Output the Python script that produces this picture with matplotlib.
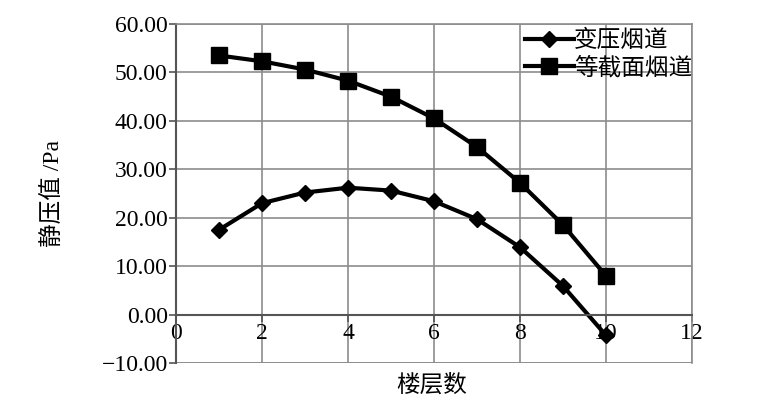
import matplotlib.pyplot as plt

plt.rcParams['font.family'] = ['Liberation Serif', 'Noto Sans CJK SC']
plt.rcParams['axes.unicode_minus'] = False

floors = [1, 2, 3, 4, 5, 6, 7, 8, 9, 10]
p_var = [17.5, 23.0, 25.2, 26.2, 25.6, 23.4, 19.7, 13.9, 5.9, -4.3]
p_const = [53.5, 52.3, 50.6, 48.3, 45.0, 40.5, 34.6, 27.2, 18.5, 8.0]
labels = ['变压烟道', '等截面烟道']

fig = plt.figure(figsize=(7.76, 4.09), dpi=100)
ax = fig.add_axes([176/776, 1-363/409, (692-176)/776, (363-24)/409])

ax.plot(floors, p_var, color='black', lw=3, marker='D', ms=8, label=labels[0])
ax.plot(floors, p_const, color='black', lw=3, marker='s', ms=11, label=labels[1])

ax.set_xlim(0, 12)
ax.set_ylim(-10, 60)
ax.set_xticks(range(0, 13, 2))
ax.set_yticks(range(-10, 61, 10))
ax.set_yticklabels(['%.2f' % v if v >= 0 else '\u2212%.2f' % -v for v in range(-10, 61, 10)])

ax.grid(True, color='#8c8c8c', lw=1.2)
ax.set_axisbelow(True)
for s in ['top', 'right']:
    ax.spines[s].set_color('#8c8c8c')
    ax.spines[s].set_linewidth(1.2)
ax.spines['bottom'].set_position(('data', 0))
ax.spines['bottom'].set_color('#555555')
ax.spines['left'].set_color('#555555')
ax.spines['bottom'].set_linewidth(1.5)
ax.spines['left'].set_linewidth(1.5)
ax.tick_params(axis='both', labelsize=17, length=5, width=1.2, color='#555555', pad=1)
ax.axhline(-10, color='#8c8c8c', lw=1.2)

ax.set_xlabel('楼层数', fontsize=17)
ax.set_ylabel('静压值 /Pa', fontsize=17)
ax.xaxis.set_label_coords(0.495, -0.035)
ax.yaxis.set_label_coords(-0.215, 0.5)

leg = ax.legend(loc='upper right', bbox_to_anchor=(1.028, 1.025), frameon=False,
                fontsize=17, handlelength=2.1, handletextpad=0.0, labelspacing=0.2,
                borderaxespad=0.2)

fig.savefig('out.png', dpi=100)
